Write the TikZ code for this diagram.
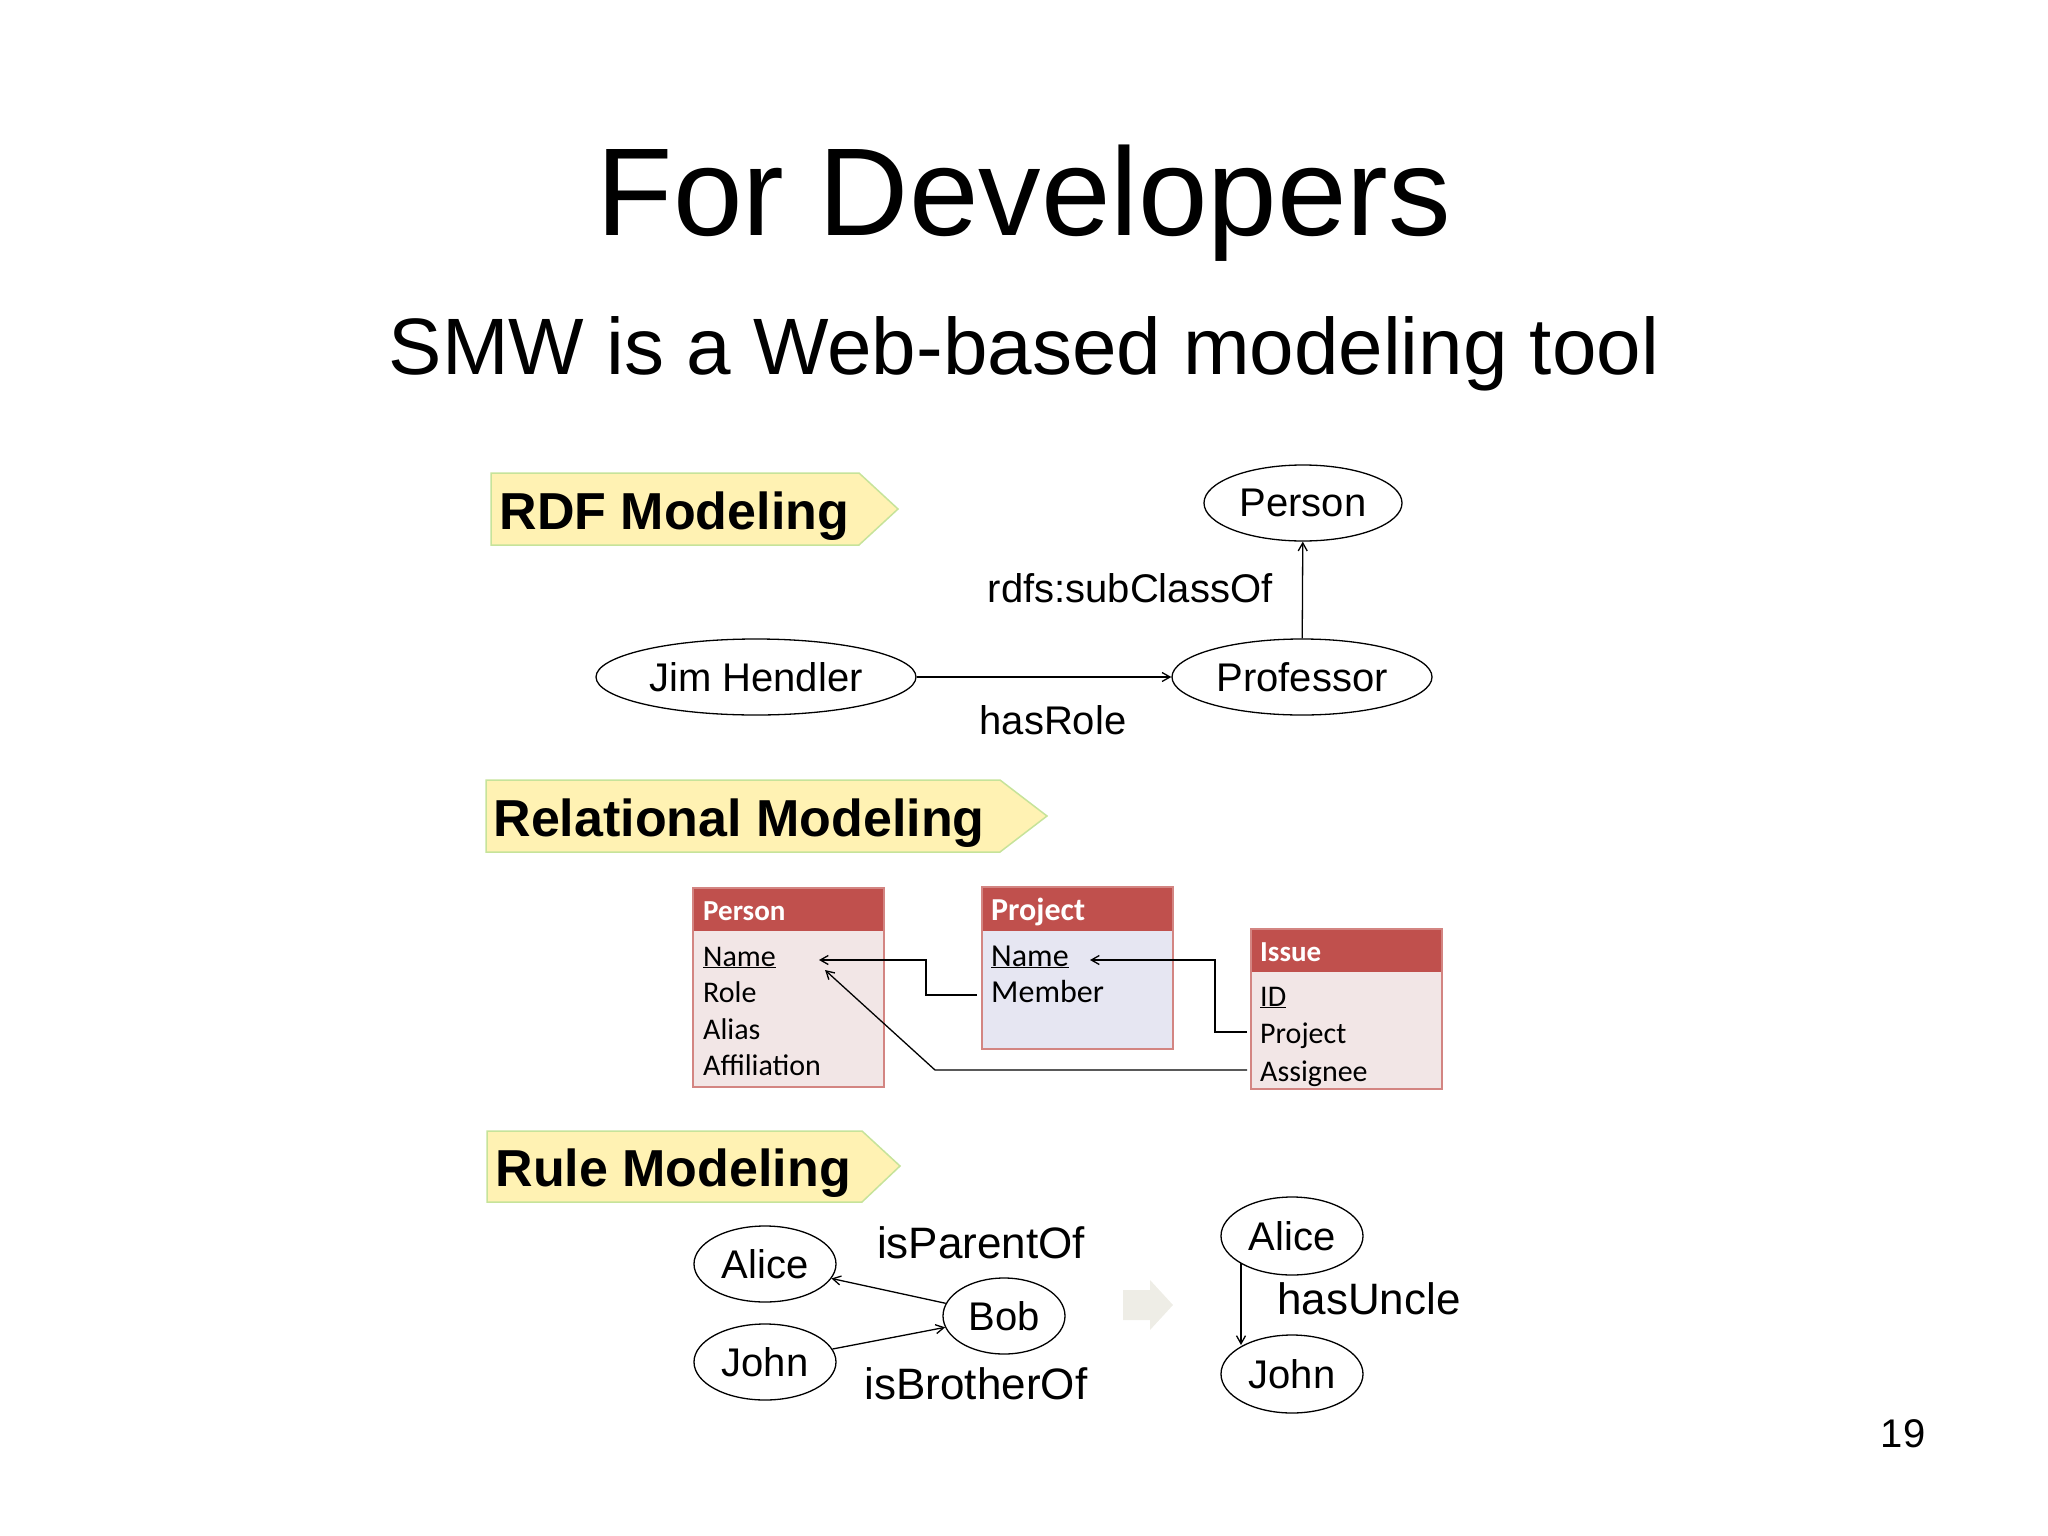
\documentclass[tikz,border=0pt]{standalone}
\usepackage{fontspec}
\setmainfont{Liberation Sans}
\newfontfamily\calfnt{Carlito}
\usetikzlibrary{shapes.geometric,arrows.meta}
\definecolor{banfill}{HTML}{FFF2B3}
\definecolor{banline}{HTML}{C6E39A}
\definecolor{hdr}{HTML}{C0504D}
\definecolor{pbody}{HTML}{F2E6E6}
\definecolor{jbody}{HTML}{E6E6F2}
\definecolor{garrow}{HTML}{EEEDE6}
\tikzset{
  ell/.style={ellipse,draw,line width=1.3pt,minimum width=#1,minimum height=76pt,inner sep=0pt,font=\fontsize{40}{40}\selectfont},
  lbl/.style={font=\fontsize{40}{40}\selectfont},
  lbl2/.style={font=\fontsize{44}{44}\selectfont},
  con/.style={line width=1.3pt,-{Straight Barb[length=8pt,width=9pt]}},
  ban/.style={fill=banfill,draw=banline,line width=1.5pt},
  bantxt/.style={font=\fontsize{52}{52}\selectfont\bfseries,anchor=base west},
  row/.style={font=\calfnt\fontsize{30}{30}\selectfont,anchor=base west,inner sep=0pt},
  htxt/.style={font=\calfnt\bfseries\fontsize{29}{29}\selectfont,anchor=base west,inner sep=0pt,text=white},
  tline/.style={line width=1.5pt},
}
\begin{document}
\begin{tikzpicture}[x=1pt,y=-1pt]
\useasboundingbox (0,0) rectangle (2048,1536);
\node[font=\fontsize{125}{125}\selectfont,anchor=base] (title) at (1024,235) {For Developers};
\node[font=\fontsize{80}{80}\selectfont,anchor=base] (sub) at (1024,374) {SMW is a Web-based modeling tool};
% banners
\draw[ban] (491,473) -- (859,473) -- (898,509) -- (859,545) -- (491,545) -- cycle;
\node[bantxt] (b1) at (496,529) {RDF Modeling};
\draw[ban] (486,780) -- (1000,780) -- (1047,816) -- (1000,852) -- (486,852) -- cycle;
\node[bantxt] (b2) at (490,836) {Relational Modeling};
\draw[ban] (487,1131) -- (862,1131) -- (900,1166) -- (862,1202) -- (487,1202) -- cycle;
\node[bantxt] (b3) at (492,1186) {Rule Modeling};
% RDF
\node[ell=198pt] (person) at (1303,503) {Person};
\node[ell=260pt] (prof) at (1302,677) {Professor};
\node[ell=320pt] (jim) at (756,677) {Jim Hendler};
\draw[con] (jim) -- (prof);
\draw[con] (prof) -- (person);
\node[lbl] (sc) at (1130,588) {rdfs:subClassOf};
\node[lbl] (hr) at (1053,720) {hasRole};
% tables
\fill[pbody] (693,931) rectangle (884,1087);
\fill[hdr] (693,888) rectangle (884,931);
\draw[hdr!70,tline] (693,888) rectangle (884,1087);
\node[htxt] (tp) at (703,920) {Person};
\node[row] (pn) at (703,966) {\underline{Name}};
\node[row] (pr) at (703,1002) {Role};
\node[row] (pa) at (703,1039) {Alias};
\node[row] (pf) at (703,1075) {Affiliation};
\fill[jbody] (982,931) rectangle (1173,1049);
\fill[hdr] (982,887) rectangle (1173,931);
\draw[hdr!70,tline] (982,887) rectangle (1173,1049);
\node[htxt,font=\calfnt\bfseries\fontsize{32}{32}\selectfont] (tj) at (991,920) {Project};
\node[row,font=\calfnt\fontsize{32}{32}\selectfont] (jn) at (991,966) {\underline{Name}};
\node[row,font=\calfnt\fontsize{32}{32}\selectfont] (jm) at (991,1002) {Member};
\fill[pbody] (1251,972) rectangle (1442,1089);
\fill[hdr] (1251,929) rectangle (1442,972);
\draw[hdr!70,tline] (1251,929) rectangle (1442,1089);
\node[htxt] (ti) at (1260,961) {Issue};
\node[row] (iid) at (1260,1006) {\underline{ID}};
\node[row] (ip) at (1260,1043) {Project};
\node[row] (ia) at (1260,1081) {Assignee};
\coordinate (c1) at (977,995);
\coordinate (c2) at (819,960);
\coordinate (c3) at (1247,1032);
\coordinate (c4) at (1090,960);
\coordinate (c5) at (1247,1070);
\coordinate (c6) at (825,970);
\draw[con] (c1) -- (926,995) -- (926,960) -- (c2);
\draw[con] (c3) -- (1215,1032) -- (1215,960) -- (c4);
\draw[con] (c5) -- (935,1070) -- (c6);
% rules
\node[ell=142pt] (alice) at (765,1264) {Alice};
\node[ell=142pt] (john) at (765,1362) {John};
\node[ell=122pt] (bob) at (1004,1316) {Bob};
\draw[con] (bob) -- (alice);
\draw[con] (john) -- (bob);
\node[lbl2] (ipo) at (981,1243) {isParentOf};
\node[lbl2] (ibo) at (976,1384) {isBrotherOf};
\fill[garrow] (1123,1290) -- (1150,1290) -- (1150,1280) -- (1173,1305) -- (1150,1330) -- (1150,1320) -- (1123,1320) -- cycle;
\node[ell=142pt,minimum height=78pt] (alice2) at (1292,1236) {Alice};
\node[ell=142pt,minimum height=78pt] (john2) at (1292,1374) {John};
\coordinate (u1) at (1241,1263);
\coordinate (u2) at (1241,1345);
\draw[con] (u1) -- (u2);
\node[lbl2] (hu) at (1369,1299) {hasUncle};
\node[font=\fontsize{40}{40}\selectfont] (pg) at (1903,1434) {19};
\end{tikzpicture}
\end{document}
